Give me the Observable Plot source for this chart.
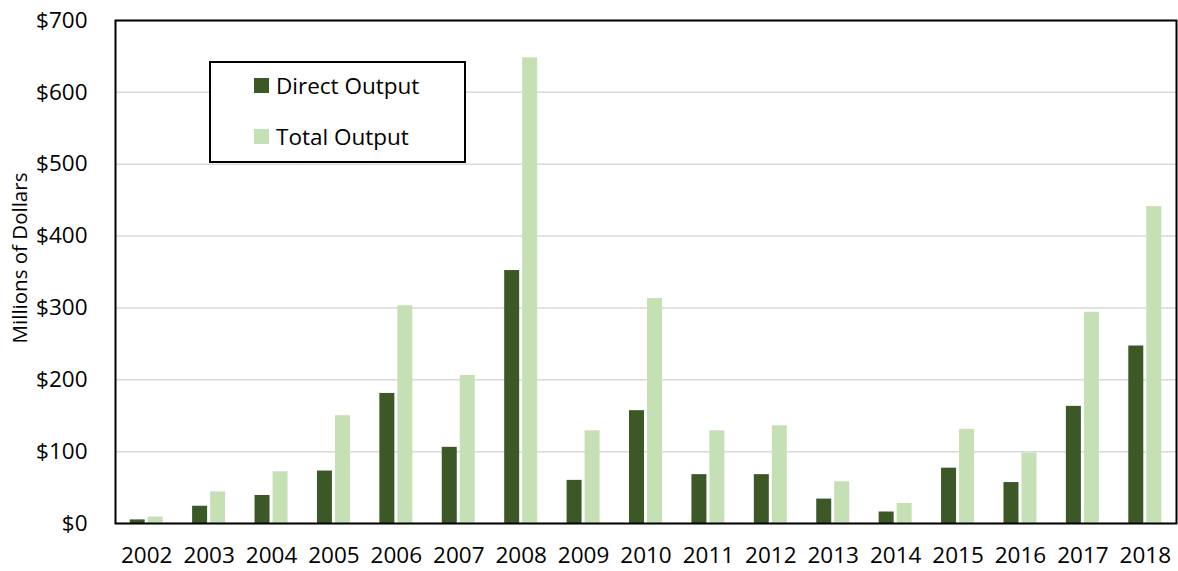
<!DOCTYPE html>
<html>
<head>
<meta charset="utf-8">
<script src="https://cdn.jsdelivr.net/npm/d3@7"></script>
<script src="https://cdn.jsdelivr.net/npm/@observablehq/plot@0.6"></script>
<style>
  body { margin: 0; background: #fff; }
  #wrap { position: relative; width: 1178px; height: 571px; font-family: "Open Sans", sans-serif; }
  #legend { position: absolute; left: 209px; top: 61px; width: 253px; height: 98px; border: 2px solid #000; background: #fff; }
  .item { position: absolute; left: 43px; height: 30px; display: flex; align-items: center; font-size: 22.5px; color: #000; white-space: nowrap; }
  .sw { width: 15px; height: 15px; margin-right: 7px; flex: none; }
</style>
</head>
<body>
<div id="wrap"></div>
<script>
const years = ["2002","2003","2004","2005","2006","2007","2008","2009","2010","2011","2012","2013","2014","2015","2016","2017","2018"];
const directOutput = [5, 24, 39, 73, 181, 106, 352, 60, 157, 68, 68, 34, 16, 77, 57, 163, 247];
const totalOutput  = [9, 44, 72, 150, 303, 206, 648, 129, 313, 129, 136, 58, 28, 131, 98, 294, 441];
const seriesNames = ["Direct Output", "Total Output"];
const seriesColors = ["#3b5826", "#c6e0b6"];
const yTicks = [0, 100, 200, 300, 400, 500, 600, 700];
const yLabel = "Millions of Dollars";

const seriesValues = [directOutput, totalOutput];
const rows = [];
years.forEach((yr, i) => {
  seriesNames.forEach((s, j) => rows.push({year: yr, series: s, value: seriesValues[j][i]}));
});

const chart = Plot.plot({
  width: 1178,
  height: 571,
  marginLeft: 115,
  marginRight: 2,
  marginTop: 20,
  marginBottom: 48,
  style: {fontFamily: "'Open Sans', sans-serif", fontSize: "22.5px", color: "#000", background: "#fff", overflow: "visible"},
  fx: {domain: years, paddingInner: 0, paddingOuter: 0, round: false, label: null},
  x: {domain: seriesNames, paddingInner: 0.167, paddingOuter: 0.817, round: false, axis: null},
  y: {domain: [0, 700], label: null},
  color: {domain: seriesNames, range: seriesColors},
  marks: [
    Plot.gridY(yTicks, {stroke: "#d9d9d9", strokeOpacity: 1, strokeWidth: 1.5}),
    Plot.barY(rows, {fx: "year", x: "series", y: "value", fill: "series"}),
    Plot.axisY(yTicks, {tickSize: 0, tickPadding: 28, tickFormat: d => "$" + d, label: null, fontSize: 22.5}),
    Plot.axisFx({anchor: "bottom", tickSize: 0, tickPadding: 24, label: null, fontSize: 22.5}),
    Plot.frame({facet: "super", stroke: "#000", strokeWidth: 2}),
    Plot.text([yLabel], {facet: "super", frameAnchor: "left", textAnchor: "middle", lineAnchor: "middle", rotate: -90, dx: -95, dy: -14, fontSize: 20.5, fill: "#000"})
  ]
});

const wrap = document.getElementById("wrap");
wrap.appendChild(chart);

const legend = document.createElement("div");
legend.id = "legend";
seriesNames.forEach((s, j) => {
  const it = document.createElement("div");
  it.className = "item";
  it.style.top = (j === 0 ? 7 : 58) + "px";
  const sw = document.createElement("span");
  sw.className = "sw";
  sw.style.background = seriesColors[j];
  it.appendChild(sw);
  it.appendChild(document.createTextNode(s));
  legend.appendChild(it);
});
wrap.appendChild(legend);
</script>
</body>
</html>
